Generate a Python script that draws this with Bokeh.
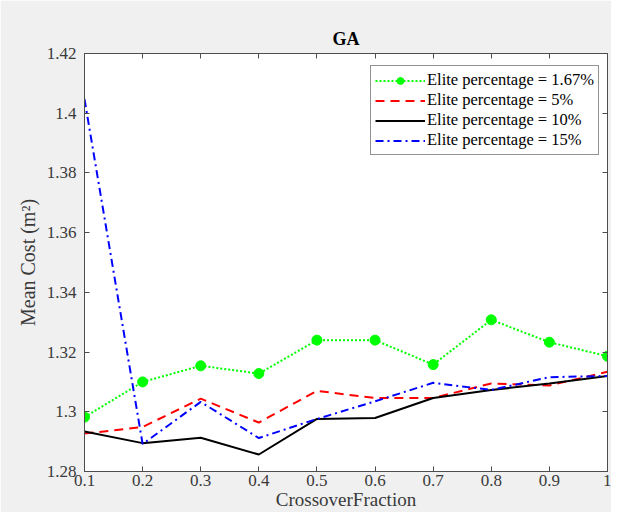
from bokeh.plotting import figure
from bokeh.models import Range1d, LinearAxis, FixedTicker, CustomJSTickFormatter, Legend
from bokeh.embed import file_html
from bokeh.resources import INLINE

# ---- data ----
crossover = [0.1, 0.2, 0.3, 0.4, 0.5, 0.6, 0.7, 0.8, 0.9, 1.0]
elite_167 = [1.2982, 1.3100, 1.3154, 1.3128, 1.3240, 1.3240, 1.3158, 1.3308, 1.3233, 1.3186]
elite_5 = [1.2927, 1.2949, 1.3044, 1.2964, 1.3070, 1.3046, 1.3046, 1.3095, 1.3088, 1.3134]
elite_10 = [1.2934, 1.2895, 1.2913, 1.2857, 1.2976, 1.2979, 1.3046, 1.3073, 1.3095, 1.3120]
elite_15 = [1.4047, 1.2892, 1.3033, 1.2912, 1.2976, 1.3035, 1.3097, 1.3073, 1.3116, 1.3120]
x_ticks = [0.1, 0.2, 0.3, 0.4, 0.5, 0.6, 0.7, 0.8, 0.9, 1.0]
y_ticks = [1.28, 1.30, 1.32, 1.34, 1.36, 1.38, 1.40, 1.42]

FONT = "Liberation Serif"
AX = "#4d4d4d"
TXT = "#3a3a3a"

p = figure(width=611, height=512, output_backend="svg", toolbar_location=None,
           x_range=Range1d(0.1, 1.0), y_range=Range1d(1.28, 1.42),
           min_border_left=84, min_border_right=4, min_border_top=53, min_border_bottom=30,
           background_fill_color="white", border_fill_color="#f0f0f0",
           outline_line_color=AX, title="GA")
p.title.align = "center"
p.title.text_font = FONT
p.title.text_font_size = "18px"
p.title.text_font_style = "bold"
p.title.text_color = "#000000"
p.title.offset = 0
p.grid.visible = False

fmt_x = CustomJSTickFormatter(code="return tick.toFixed(1).replace(/\\.0$/, '');")
fmt_y = CustomJSTickFormatter(code="return tick.toFixed(2).replace(/0$/, '');")
blank = CustomJSTickFormatter(code="return '';")

def style(ax, ticks, fmt, show=True):
    ax.ticker = FixedTicker(ticks=ticks)
    ax.formatter = fmt if show else blank
    ax.axis_line_color = AX
    ax.major_tick_line_color = AX
    ax.minor_tick_line_color = None
    ax.major_tick_in = 5
    ax.major_tick_out = 0
    ax.major_label_text_font = FONT
    ax.major_label_text_font_size = "17px" if show else "0px"
    ax.major_label_text_color = TXT
    ax.axis_label_text_font = FONT
    ax.axis_label_text_font_size = "19px"
    ax.axis_label_text_font_style = "normal"
    ax.axis_label_text_color = TXT

style(p.xaxis[0], x_ticks, fmt_x)
style(p.yaxis[0], y_ticks, fmt_y)
p.xaxis[0].axis_label = "CrossoverFraction"
p.xaxis[0].major_label_standoff = 3
p.xaxis[0].axis_label_standoff = 0
p.yaxis[0].axis_label = "Mean Cost (m²)"
p.yaxis[0].axis_label_text_font_size = "20px"
p.yaxis[0].major_label_standoff = 8
p.yaxis[0].axis_label_standoff = 5

top = LinearAxis()
style(top, x_ticks, fmt_x, show=False)
top.major_label_standoff = 0
p.add_layout(top, "above")
right = LinearAxis()
style(right, y_ticks, fmt_y, show=False)
right.major_label_standoff = 0
p.add_layout(right, "right")

r1 = p.line(crossover, elite_167, line_color="#00ff00", line_width=2, line_dash="2 2")
r1m = p.scatter(crossover, elite_167, size=10, fill_color="#00ff00", line_color="#00ff00")
r2 = p.line(crossover, elite_5, line_color="#ff0000", line_width=2, line_dash="9 6")
r3 = p.line(crossover, elite_10, line_color="#000000", line_width=2)
r4 = p.line(crossover, elite_15, line_color="#0000ff", line_width=2, line_dash="8 4 2 4")

legend = Legend(items=[
    ("Elite percentage = 1.67%", [r1, r1m]),
    ("Elite percentage = 5%", [r2]),
    ("Elite percentage = 10%", [r3]),
    ("Elite percentage = 15%", [r4]),
], location=(286, 316))
legend.label_text_font = FONT
legend.label_text_font_size = "16.5px"
legend.label_text_color = "#000000"
legend.glyph_width = 50
legend.glyph_height = 17
legend.label_height = 17
legend.label_standoff = 2
legend.spacing = 0
legend.padding = 4
legend.margin = 0
legend.border_line_color = "#262626"
legend.border_line_width = 1
legend.background_fill_color = "white"
legend.background_fill_alpha = 1
p.add_layout(legend, "center")

open("out.html", "w").write(file_html(p, INLINE))
